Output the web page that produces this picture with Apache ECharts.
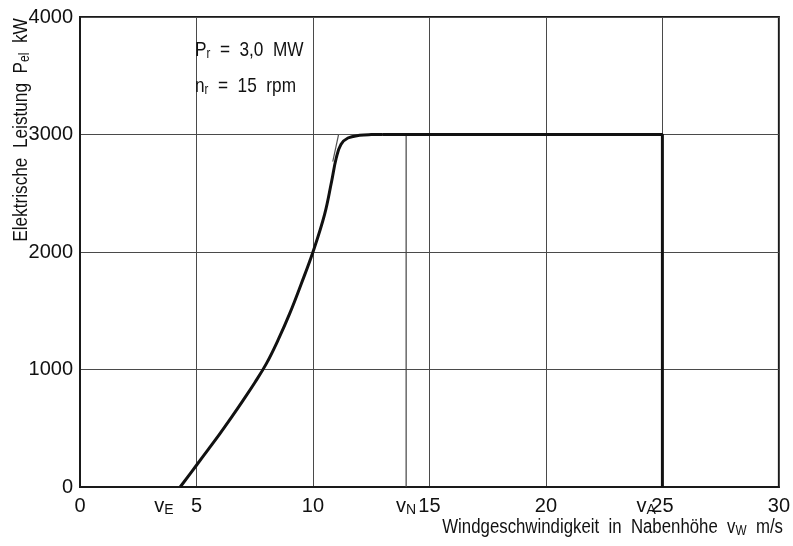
<!DOCTYPE html>
<html>
<head>
<meta charset="utf-8">
<script src="https://cdn.jsdelivr.net/npm/echarts@6/dist/echarts.min.js"></script>
<style>
  html, body { margin: 0; padding: 0; background: #fff; }
  #chart { width: 793px; height: 546px; }
</style>
</head>
<body>
<div id="chart"></div>
<script>
// Leistungskurve (geglättet)
const windSpeed = [4.3, 5, 5.5, 6, 6.5, 7, 7.5, 8, 8.5, 9, 9.5, 10, 10.5, 10.8, 11, 11.2, 11.5, 12, 12.5, 13];
const power     = [0, 185, 318, 452, 592, 737, 887, 1050, 1250, 1475, 1730, 2000, 2320, 2600, 2800, 2915, 2970, 2993, 2999, 3000];
// Nennleistung bis Abschaltgeschwindigkeit
const plateauSpeed = [13, 25, 25];
const plateauPower = [3000, 3000, 0];
// idealisierter Knick
const idealSpeed = [10.85, 11.1, 12.5];
const idealPower = [2770, 3000, 3000];
// Nenngeschwindigkeit
const ratedLine = [[14, 0], [14, 3000]];
// Beschriftung der Kennwerte
const markerNames = ['E', 'N', 'A'];
const markerPos = [3.6, 14, 24.3];

const font = '"Liberation Sans", Arial, sans-serif';
const ink = '#111';
const myChart = echarts.init(document.getElementById('chart'));

const zip = (a, b) => a.map((v, i) => [v, b[i]]);

let option = {
  animation: false,
  backgroundColor: '#fff',
  grid: { left: 80, right: 10, top: 17, bottom: 59, show: true, borderColor: '#1a1a1a', borderWidth: 2 },
  xAxis: {
    type: 'value', min: 0, max: 30, interval: 5,
    axisLine: { show: true, lineStyle: { color: '#1a1a1a', width: 2 } },
    axisTick: { show: false },
    axisLabel: { color: ink, fontFamily: font, fontSize: 20, margin: 9 },
    splitLine: { lineStyle: { color: '#4a4a4a', width: 1 } }
  },
  yAxis: {
    type: 'value', min: 0, max: 4000, interval: 1000,
    axisLine: { show: true, lineStyle: { color: '#1a1a1a', width: 2 } },
    axisTick: { show: false },
    axisLabel: { color: ink, fontFamily: font, fontSize: 20, margin: 7, formatter: v => String(v) },
    splitLine: { lineStyle: { color: '#4a4a4a', width: 1 } }
  },
  series: [
    {
      type: 'line', data: zip(idealSpeed, idealPower), symbol: 'none',
      lineStyle: { color: '#555', width: 1.2 }
    },
    {
      type: 'line', data: ratedLine, symbol: 'none',
      lineStyle: { color: '#444', width: 1.2 }
    },
    {
      type: 'line', data: zip(windSpeed, power), symbol: 'none', smooth: 0.4,
      lineStyle: { color: '#111', width: 3 }
    },
    {
      type: 'line', data: zip(plateauSpeed, plateauPower), symbol: 'none',
      lineStyle: { color: '#111', width: 3 }
    }
  ]
};
myChart.setOption(option);

const sub = { fontSize: 14, fontFamily: font, color: ink, padding: [9, 0, 0, 0] };
const baseRich = { s: sub };
const graphics = [];

markerNames.forEach((n, i) => {
  const p = myChart.convertToPixel({ gridIndex: 0 }, [markerPos[i], 0]);
  graphics.push({
    type: 'text', x: p[0], y: p[1] + 19,
    style: { text: 'v{s|' + n + '}', fontFamily: font, fontSize: 20, fill: ink,
      align: 'center', verticalAlign: 'middle', rich: baseRich }
  });
});

graphics.push({
  type: 'text', x: 783, y: 527, scaleX: 0.84,
  style: { text: 'Windgeschwindigkeit  in  Nabenhöhe  v{s|W}  m/s', fontFamily: font, fontSize: 20,
    fill: ink, align: 'right', verticalAlign: 'middle', rich: baseRich }
});
graphics.push({
  type: 'text', x: 21, y: 130, rotation: Math.PI / 2, scaleX: 0.86,
  style: { text: 'Elektrische  Leistung  P{s|el}  kW', fontFamily: font, fontSize: 20,
    fill: ink, align: 'center', verticalAlign: 'middle', rich: baseRich }
});
graphics.push({
  type: 'text', x: 195, y: 50, scaleX: 0.82,
  style: { text: 'P{s|r}  =  3,0  MW', fontFamily: font, fontSize: 21,
    fill: ink, align: 'left', verticalAlign: 'middle', rich: baseRich }
});
graphics.push({
  type: 'text', x: 195, y: 86, scaleX: 0.82,
  style: { text: 'n{s|r}  =  15  rpm', fontFamily: font, fontSize: 21,
    fill: ink, align: 'left', verticalAlign: 'middle', rich: baseRich }
});

myChart.setOption({ graphic: graphics });
</script>
</body>
</html>
